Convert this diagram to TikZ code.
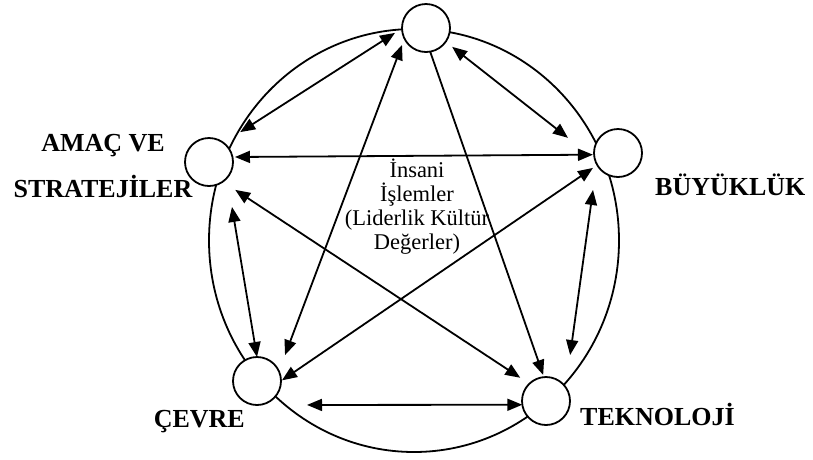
\documentclass[tikz,border=0pt]{standalone}
\usepackage{fontspec}
\setmainfont{Liberation Serif}
\usetikzlibrary{arrows.meta}
\begin{document}
\begin{tikzpicture}[x=1pt,y=-1pt,
  ring/.style={circle,draw,line width=1.8pt,fill=white,minimum size=48pt,inner sep=0pt,outer sep=0pt},
  link/.style={line width=1.8pt},
  onehead/.style={-{Triangle[length=15pt,width=12pt]}},
  twoheads/.style={{Triangle[length=15pt,width=12pt]}-{Triangle[length=15pt,width=12pt]}},
  lbl/.style={font=\fontsize{26}{46}\selectfont\bfseries,inner sep=0pt},
  mid/.style={font=\fontsize{22.5}{24}\selectfont,align=center,inner sep=0pt}]
\useasboundingbox (0,0) rectangle (813,459);
\draw[link] (414,240.5) ellipse [x radius=205, y radius=211.5];
\node[ring] (T) at (426,28) {};
\node[ring] (A) at (209,162) {};
\node[ring] (B) at (618,153) {};
\node[ring] (C) at (257,381) {};
\node[ring] (K) at (546,401) {};
\draw[link,twoheads,shorten <=8.3pt,shorten >=19.9pt] (T.181) -- (A.53.5);
\draw[link,twoheads,shorten <=8.2pt,shorten >=34pt] (T.-35.5) -- (B.194.5);
\draw[link,twoheads,shorten <=6.9pt,shorten >=17.3pt] (T.206) -- (C.24.1);
\draw[link,onehead,shorten >=2.25pt] (T.-80.5) -- (K.95.5);
\draw[link,twoheads,shorten <=2.5pt,shorten >=1.1pt] (A.12) -- (B.184.8);
\draw[link,twoheads,shorten <=14.9pt,shorten >=10.85pt] (A.-55.5) -- (K.134.8);
\draw[link,twoheads,shorten <=29.6pt] (A.-41) -- (C.90);
\draw[link,twoheads,shorten <=5.15pt,shorten >=1.2pt] (B.210.3) -- (C.0.7);
\draw[link,twoheads,shorten <=26.3pt,shorten >=32.5pt] (B.207) -- (K.35.3);
\draw[link,twoheads,shorten <=50pt] (C.-90) -- (K.189.5);
\node[lbl,align=center,anchor=base] (goal) at (103,197) {AMAÇ VE\\STRATEJİLER};
\node[lbl,anchor=base west] (size) at (655,195) {BÜYÜKLÜK};
\node[lbl,anchor=base east] (env) at (245,427) {ÇEVRE};
\node[lbl,anchor=base west] (tech) at (580,425) {TEKNOLOJİ};
\node[mid,anchor=base] (human) at (417,249) {İnsani\\İşlemler\\(Liderlik Kültür\\Değerler)};
\end{tikzpicture}
\end{document}
